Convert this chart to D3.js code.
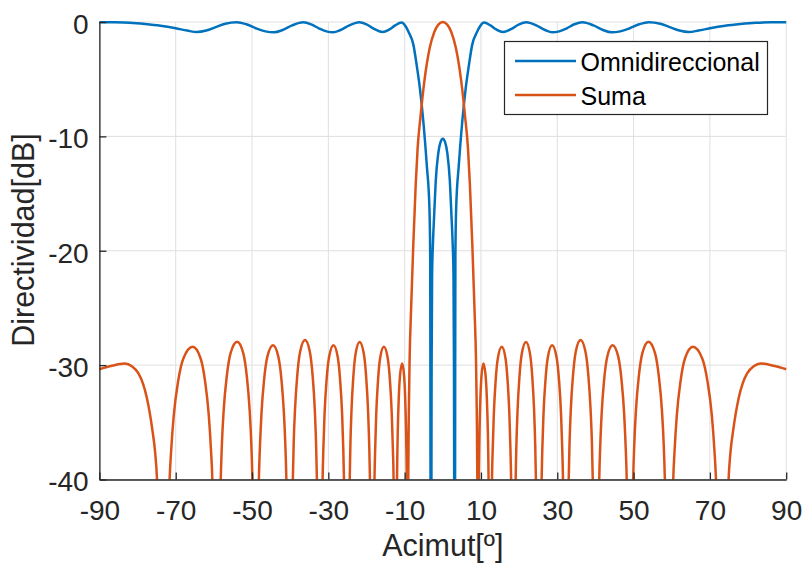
<!DOCTYPE html>
<html>
<head>
<meta charset="utf-8">
<script src="https://cdn.jsdelivr.net/npm/d3@7"></script>
<style>
  html, body { margin: 0; padding: 0; background: #ffffff; }
  svg { display: block; font-family: "Liberation Sans", Arial, Helvetica, sans-serif; }
</style>
</head>
<body>
<svg id="chart" width="802" height="566"></svg>
<script>
// Axis ticks
const xTicks = [-90, -70, -50, -30, -10, 10, 30, 50, 70, 90];
const yTicks = [-40, -30, -20, -10, 0];
const seriesNames = ["Omnidireccional", "Suma"];
const seriesColors = ["#0072BD", "#D95319"];

// Omnidirectional pattern: [azimuth (deg), directivity (dB)]
const omniPattern = [
  [-90, -0.02], [-86, -0.03], [-82, -0.07], [-78, -0.18], [-74, -0.33], [-70, -0.55],
  [-67, -0.75], [-64.5, -0.88], [-62, -0.75], [-59.5, -0.45], [-57, -0.15], [-54, -0.02],
  [-51.5, -0.2], [-49, -0.55], [-46.5, -0.82], [-44.2, -0.9], [-42, -0.7], [-39.5, -0.3],
  [-36.6, -0.02], [-34.5, -0.2], [-32.5, -0.55], [-30.5, -0.82], [-28.7, -0.9], [-26.8, -0.7],
  [-24.5, -0.3], [-21.9, -0.02], [-20, -0.2], [-18, -0.6], [-15.75, -0.88], [-14, -0.65],
  [-12.5, -0.3], [-10.8, -0.05], [-9.8, -0.35], [-9.0, -0.85], [-7.7, -2.0], [-6.85, -3.76],
  [-6.0, -5.8], [-5.1, -8.7], [-4.2, -12.5], [-3.5, -16.3], [-3.3, -20.5], [-3.25, -30],
  [-3.22, -40], [-3.1, -60], [-2.98, -40], [-2.93, -30], [-2.8, -22], [-2.6, -19.5],
  [-2.25, -16.8], [-1.85, -13.9], [-1.2, -11.5], [-0.6, -10.5], [0, -10.2],
  [0.6, -10.5], [1.2, -11.5], [1.85, -13.9], [2.25, -16.8], [2.6, -19.5], [2.8, -22],
  [2.93, -30], [2.98, -40], [3.1, -60], [3.22, -40], [3.25, -30], [3.3, -20.5],
  [3.5, -16.3], [4.2, -12.5], [5.1, -8.7], [6.0, -5.8], [6.85, -3.76], [7.7, -2.0],
  [9.0, -0.85], [9.8, -0.35], [10.8, -0.05], [12.5, -0.3], [14, -0.65], [15.75, -0.88],
  [18, -0.6], [20, -0.2], [21.9, -0.02], [24.5, -0.3], [26.8, -0.7], [28.7, -0.9],
  [30.5, -0.82], [32.5, -0.55], [34.5, -0.2], [36.6, -0.02], [39.5, -0.3], [42, -0.7],
  [44.2, -0.9], [46.5, -0.82], [49, -0.55], [51.5, -0.2], [54, -0.02], [57, -0.15],
  [59.5, -0.45], [62, -0.75], [64.5, -0.88], [67, -0.75], [70, -0.55], [74, -0.33],
  [78, -0.18], [82, -0.07], [86, -0.03], [90, -0.02]
];

// Sum pattern: [azimuth (deg), directivity (dB)]; nulls dip below the -40 dB floor
const sumaPattern = [
  [-90, -30.36], [-87, -30.08], [-83.3, -29.86], [-81.5, -30.1], [-79.8, -30.7], [-78.6, -31.6],
  [-77.6, -32.8], [-76.1, -35.7], [-75.4, -37.6], [-74.9, -40], [-73.25, -70],
  [-71.6, -40], [-71.18, -37.4], [-70.51, -34.4], [-69.36, -31.4], [-67.97, -29.4], [-65.55, -28.4],
  [-63.49, -29.4], [-62.31, -31.4], [-61.33, -34.4], [-60.76, -37.4], [-60.4, -40], [-59.3, -70],
  [-58.2, -40], [-57.9, -36.95], [-57.43, -33.95], [-56.61, -30.95], [-55.62, -28.95], [-53.9, -27.95],
  [-52.3, -28.95], [-51.38, -30.95], [-50.62, -33.95], [-50.18, -36.95], [-49.9, -40], [-49.05, -70],
  [-48.2, -40], [-47.94, -37.26], [-47.53, -34.26], [-46.83, -31.26], [-45.98, -29.26], [-44.5, -28.26],
  [-43.1, -29.26], [-42.29, -31.26], [-41.63, -34.26], [-41.24, -37.26], [-41.0, -40], [-40.15, -70],
  [-39.3, -40], [-39.08, -36.8], [-38.72, -33.8], [-38.12, -30.8], [-37.38, -28.8], [-36.1, -27.8],
  [-34.86, -28.8], [-34.15, -30.8], [-33.56, -33.8], [-33.22, -36.8], [-33.0, -40], [-32.25, -70],
  [-31.5, -40], [-31.3, -37.26], [-30.99, -34.26], [-30.45, -31.26], [-29.79, -29.26], [-28.65, -28.26],
  [-27.55, -29.26], [-26.92, -31.26], [-26.39, -34.26], [-26.09, -37.26], [-25.9, -40], [-25.15, -70],
  [-24.4, -40], [-24.22, -36.97], [-23.93, -33.97], [-23.44, -30.97], [-22.84, -28.97], [-21.8, -27.97],
  [-20.72, -28.97], [-20.1, -30.97], [-19.59, -33.97], [-19.29, -36.97], [-19.1, -40], [-18.5, -70],
  [-17.9, -40], [-17.73, -37.4], [-17.46, -34.4], [-16.99, -31.4], [-16.43, -29.4], [-15.45, -28.4],
  [-14.43, -29.4], [-13.84, -31.4], [-13.36, -34.4], [-13.08, -37.4], [-12.9, -40], [-12.45, -70],
  [-12.0, -40], [-11.92, -37.86], [-11.81, -35.86], [-11.54, -32.86], [-11.2, -30.86], [-10.65, -29.86],
  [-10.16, -30.86], [-9.86, -32.86], [-9.62, -35.86], [-9.52, -37.86], [-9.45, -40], [-9.25, -70],
  [-9.05, -40], [-8.9, -34], [-8.7, -29.5], [-8.33, -25.3], [-7.75, -19.6], [-7.1, -14.2],
  [-6.6, -11.05], [-5.8, -8.14], [-4.85, -5.22], [-3.45, -2.3], [-2.2, -0.85], [-1.1, -0.2], [0, 0],
  [1.1, -0.2], [2.2, -0.85], [3.45, -2.3], [4.85, -5.22], [5.8, -8.14], [6.6, -11.05],
  [7.1, -14.2], [7.75, -19.6], [8.33, -25.3], [8.7, -29.5], [8.9, -34], [9.05, -40], [9.25, -70],
  [9.45, -40], [9.52, -37.86], [9.62, -35.86], [9.86, -32.86], [10.16, -30.86], [10.65, -29.86],
  [11.2, -30.86], [11.54, -32.86], [11.81, -35.86], [11.92, -37.86], [12.0, -40], [12.45, -70],
  [12.9, -40], [13.08, -37.4], [13.36, -34.4], [13.84, -31.4], [14.43, -29.4], [15.45, -28.4],
  [16.43, -29.4], [16.99, -31.4], [17.46, -34.4], [17.73, -37.4], [17.9, -40], [18.5, -70],
  [19.1, -40], [19.29, -36.97], [19.59, -33.97], [20.1, -30.97], [20.72, -28.97], [21.8, -27.97],
  [22.84, -28.97], [23.44, -30.97], [23.93, -33.97], [24.22, -36.97], [24.4, -40], [25.15, -70],
  [25.9, -40], [26.09, -37.26], [26.39, -34.26], [26.92, -31.26], [27.55, -29.26], [28.65, -28.26],
  [29.79, -29.26], [30.45, -31.26], [30.99, -34.26], [31.3, -37.26], [31.5, -40], [32.25, -70],
  [33.0, -40], [33.22, -36.8], [33.56, -33.8], [34.15, -30.8], [34.86, -28.8], [36.1, -27.8],
  [37.38, -28.8], [38.12, -30.8], [38.72, -33.8], [39.08, -36.8], [39.3, -40], [40.15, -70],
  [41.0, -40], [41.24, -37.26], [41.63, -34.26], [42.29, -31.26], [43.1, -29.26], [44.5, -28.26],
  [45.98, -29.26], [46.83, -31.26], [47.53, -34.26], [47.94, -37.26], [48.2, -40], [49.05, -70],
  [49.9, -40], [50.18, -36.95], [50.62, -33.95], [51.38, -30.95], [52.3, -28.95], [53.9, -27.95],
  [55.62, -28.95], [56.61, -30.95], [57.43, -33.95], [57.9, -36.95], [58.2, -40], [59.3, -70],
  [60.4, -40], [60.76, -37.4], [61.33, -34.4], [62.31, -31.4], [63.49, -29.4], [65.55, -28.4],
  [67.97, -29.4], [69.36, -31.4], [70.51, -34.4], [71.18, -37.4], [71.6, -40], [73.25, -70],
  [74.9, -40], [75.4, -37.6], [76.1, -35.7], [77.6, -32.8], [78.6, -31.6], [79.8, -30.7],
  [81.5, -30.1], [83.3, -29.86], [87, -30.08], [90, -30.36]
];

const svg = d3.select("#chart");
const plot = { left: 99.4, right: 786.2, top: 22, bottom: 479.5 };

const x = d3.scaleLinear().domain([-90, 90]).range([plot.left, plot.right]);
const y = d3.scaleLinear().domain([-40, 0]).range([plot.bottom, plot.top]);

const ink = "#262626";
const gridColor = "#dfdfdf";

// Grid
const grid = svg.append("g");
grid.selectAll("line.gx").data(xTicks).join("line")
  .attr("x1", d => x(d)).attr("x2", d => x(d))
  .attr("y1", plot.top).attr("y2", plot.bottom)
  .attr("stroke", gridColor).attr("stroke-width", 1);
grid.selectAll("line.gy").data(yTicks).join("line")
  .attr("x1", plot.left).attr("x2", plot.right)
  .attr("y1", d => y(d)).attr("y2", d => y(d))
  .attr("stroke", gridColor).attr("stroke-width", 1);

// Clip: the -40 dB floor cuts the nulls, strokes at the 0 dB top stay whole
svg.append("defs").append("clipPath").attr("id", "plotClip")
  .append("rect")
  .attr("x", plot.left - 4).attr("y", plot.top - 6)
  .attr("width", plot.right - plot.left + 8)
  .attr("height", plot.bottom - plot.top + 6);

const line = d3.line()
  .x(d => x(d[0]))
  .y(d => y(d[1]))
  .curve(d3.curveMonotoneX);

const curves = svg.append("g").attr("clip-path", "url(#plotClip)");
[omniPattern, sumaPattern].forEach((pattern, i) => {
  curves.append("path")
    .datum(pattern)
    .attr("d", line)
    .attr("fill", "none")
    .attr("stroke", seriesColors[i])
    .attr("stroke-width", 2.5)
    .attr("stroke-linejoin", "round");
});

// Axes (left and bottom only, ticks pointing inward)
const xAxis = d3.axisBottom(x).tickValues(xTicks).tickSize(-7).tickSizeOuter(0).tickPadding(13)
  .tickFormat(d3.format("d"));
const yAxis = d3.axisLeft(y).tickValues(yTicks).tickSize(-7).tickSizeOuter(0).tickPadding(18)
  .tickFormat(d3.format("d"));

const gx = svg.append("g").attr("transform", `translate(0,${plot.bottom})`).call(xAxis);
const gy = svg.append("g").attr("transform", `translate(${plot.left},0)`).call(yAxis);

[gx, gy].forEach(g => {
  g.select(".domain").attr("stroke", ink).attr("stroke-width", 1.3);
  g.selectAll(".tick line").attr("stroke", ink).attr("stroke-width", 1.3);
  g.selectAll(".tick text")
    .attr("fill", ink)
    .style("font-family", '"Liberation Sans", Arial, Helvetica, sans-serif')
    .style("font-size", "28px");
});
gx.selectAll(".tick text").attr("dy", null).attr("y", 40.5);
gy.selectAll(".tick text").attr("dy", null).attr("y", 11.3).attr("x", -10.8);
// Plain hyphen-minus in the tick labels
gx.selectAll(".tick text").text(d => String(d));
gy.selectAll(".tick text").text(d => String(d));

// Axis labels
svg.append("text")
  .attr("x", (plot.left + plot.right) / 2)
  .attr("y", 556)
  .attr("text-anchor", "middle")
  .attr("fill", ink)
  .style("font-size", "30.5px")
  .text("Acimut[º]");

svg.append("text")
  .attr("transform", `translate(34,240) rotate(-90)`)
  .attr("text-anchor", "middle")
  .attr("fill", ink)
  .style("font-size", "30.5px")
  .text("Directividad[dB]");

// Legend
const legend = svg.append("g");
legend.append("rect")
  .attr("x", 504.5).attr("y", 41.5)
  .attr("width", 263).attr("height", 73)
  .attr("fill", "#ffffff")
  .attr("stroke", ink).attr("stroke-width", 1.2);

const legendRows = [61, 95];
seriesNames.forEach((name, i) => {
  legend.append("line")
    .attr("x1", 515).attr("x2", 576)
    .attr("y1", legendRows[i]).attr("y2", legendRows[i])
    .attr("stroke", seriesColors[i]).attr("stroke-width", 2.5);
  legend.append("text")
    .attr("x", 580.5).attr("y", legendRows[i] + 9.5)
    .attr("fill", "#000000")
    .style("font-size", "25px")
    .text(name);
});
</script>
</body>
</html>
